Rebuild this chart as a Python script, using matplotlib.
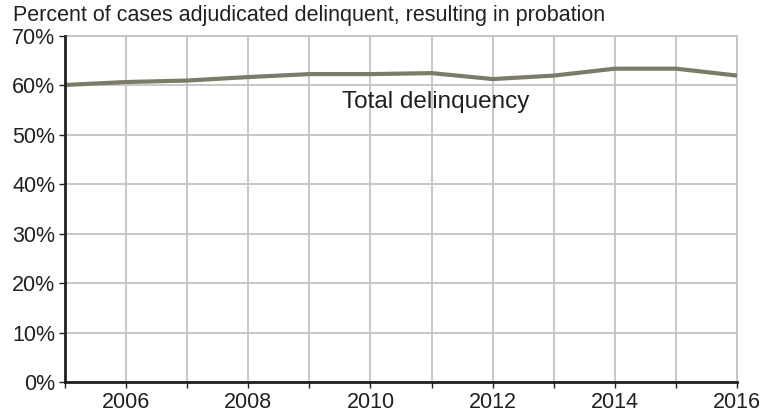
import matplotlib.pyplot as plt
import matplotlib.ticker as mticker

plt.rcParams['font.family'] = ['Liberation Sans', 'DejaVu Sans']

years = list(range(2005, 2017))
probation_pct = [60.1, 60.7, 61.0, 61.7, 62.3, 62.3, 62.5, 61.3, 62.0, 63.4, 63.4, 62.0]
series_label = 'Total delinquency'
title = 'Percent of cases adjudicated delinquent, resulting in probation'

fig = plt.figure(figsize=(7.71, 4.12), dpi=100)
ax = fig.add_axes([0.0843, 0.072, 0.956 - 0.0843, 0.9126 - 0.072])

ax.plot(years, probation_pct, color='#7b7b68', lw=3, solid_capstyle='butt', zorder=3)
ax.text(2011.07, 56.6, series_label, ha='center', va='center', fontsize=17.5, color='#231f20')

ax.set_xlim(2005, 2016)
ax.set_ylim(0, 70)
ax.xaxis.set_major_locator(mticker.MultipleLocator(1))
ax.yaxis.set_major_locator(mticker.MultipleLocator(10))
ax.xaxis.set_major_formatter(lambda x, _: f'{int(x)}' if int(round(x)) % 2 == 0 else '')
ax.yaxis.set_major_formatter(lambda y, _: f'{int(y)}%')

ax.grid(True, color='#c4c4c4', lw=1.3, zorder=1)
for s in ['top', 'right']:
    ax.spines[s].set_color('#c4c4c4')
    ax.spines[s].set_linewidth(1.3)
for s in ['left', 'bottom']:
    ax.spines[s].set_color('#231f20')
    ax.spines[s].set_linewidth(2)
    ax.spines[s].set_zorder(4)

ax.tick_params(axis='both', colors='#231f20', labelsize=15.5, length=4, width=1)
ax.tick_params(axis='x', pad=3)
ax.tick_params(axis='y', pad=3)

fig.text(13 / 771, 1 - 16 / 412, title, ha='left', va='center', fontsize=15.5, color='#231f20')

fig.savefig('out.png', dpi=100)
